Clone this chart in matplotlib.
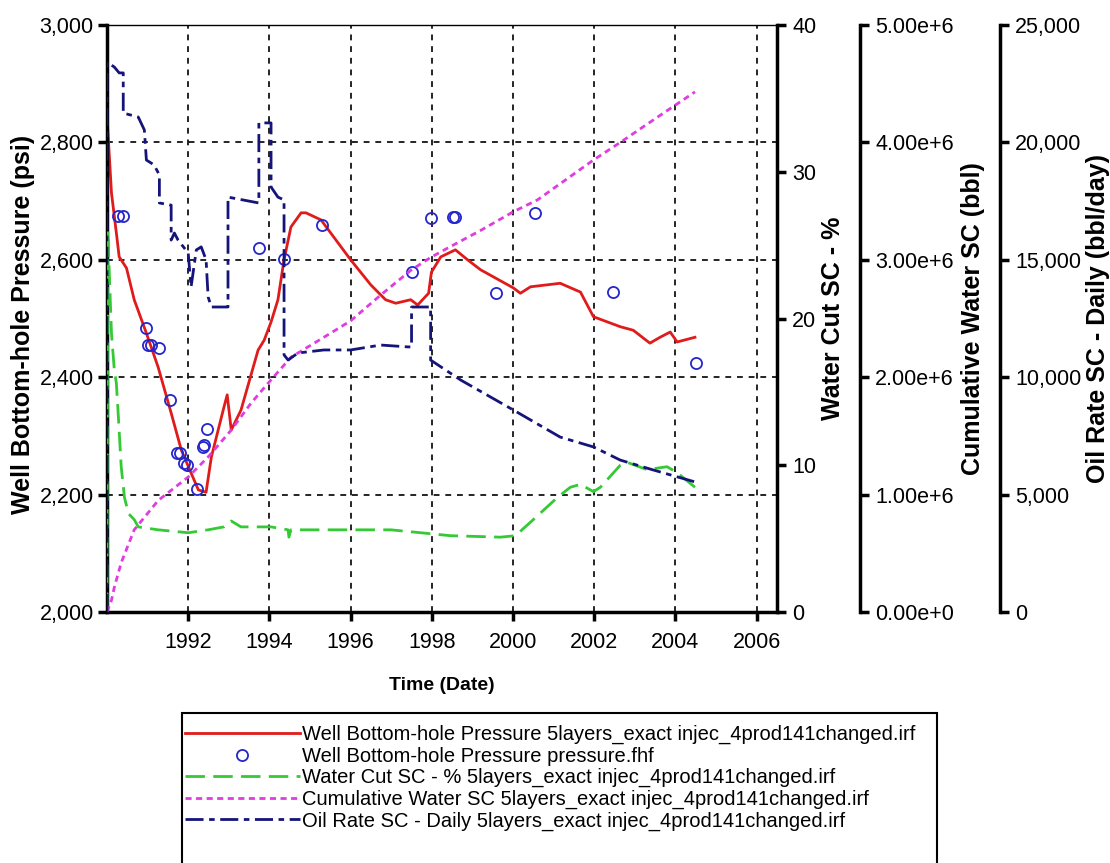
import matplotlib
matplotlib.use('Agg')
import matplotlib.pyplot as plt
from matplotlib.ticker import FuncFormatter
from matplotlib.patches import Rectangle

plt.rcParams['font.family'] = ['Liberation Sans', 'DejaVu Sans']

# simulated well bottom-hole pressure (psi), time in decimal years
red_t = [1990.02, 1990.11, 1990.23, 1990.30, 1990.48, 1990.67, 1990.97, 1991.26, 1991.58, 1991.83,
         1992.07, 1992.25, 1992.44, 1992.57, 1992.88, 1992.96, 1993.06, 1993.30, 1993.72, 1993.87,
         1994.04, 1994.21, 1994.36, 1994.53, 1994.78, 1994.90, 1995.27, 1996.00, 1996.50, 1996.86,
         1997.11, 1997.48, 1997.65, 1997.92, 1997.99, 1998.22, 1998.58, 1998.88, 1999.20, 2000.01,
         2000.18, 2000.43, 2001.16, 2001.66, 2001.98, 2002.64, 2002.96, 2003.37, 2003.62, 2003.87,
         2004.04, 2004.48]
red_p = [2821, 2714, 2646, 2605, 2586, 2532, 2475, 2417, 2339, 2276,
         2237, 2208, 2204, 2264, 2349, 2370, 2310, 2344, 2446, 2463,
         2494, 2532, 2600, 2656, 2680, 2680, 2668, 2600, 2557, 2532,
         2526, 2532, 2523, 2543, 2579, 2605, 2617, 2600, 2583, 2552,
         2543, 2554, 2560, 2545, 2503, 2486, 2480, 2458, 2468, 2477,
         2460, 2468]

# measured pressure (pressure.fhf)
obs_t = [1990.28, 1990.40, 1990.97, 1991.02, 1991.09, 1991.29, 1991.56, 1991.73, 1991.80, 1991.90,
         1991.98, 1992.22, 1992.37, 1992.39, 1992.47, 1993.74, 1994.36, 1995.29, 1997.50, 1997.97,
         1998.51, 1998.58, 1999.57, 2000.55, 2002.47, 2004.51]
obs_p = [2675, 2675, 2484, 2455, 2455, 2450, 2361, 2271, 2271, 2254,
         2250, 2210, 2281, 2285, 2312, 2620, 2601, 2659, 2579, 2671,
         2673, 2673, 2543, 2680, 2545, 2424]

# water cut (%)
wc_t = [1990.0, 1990.02, 1990.08, 1990.11, 1990.18, 1990.23, 1990.28, 1990.35, 1990.43, 1990.53,
        1990.67, 1990.77, 1991.26, 1992.0, 1992.49, 1992.88, 1993.06, 1993.30, 1994.04, 1994.46,
        1994.48, 1994.53, 1996.99, 1998.46, 1999.69, 2000.06, 2000.50, 2001.09, 2001.41, 2001.66,
        2001.98, 2002.15, 2002.64, 2002.81, 2003.30, 2003.79, 2004.04, 2004.48]
wc_v = [0, 26.0, 21.3, 19.0, 16.5, 15.6, 13.3, 9.9, 7.8, 6.7,
        6.3, 5.8, 5.6, 5.4, 5.6, 5.8, 6.2, 5.8, 5.8, 5.6,
        5.1, 5.6, 5.6, 5.2, 5.1, 5.2, 6.3, 7.8, 8.5, 8.7,
        8.2, 8.5, 10.0, 10.2, 9.7, 9.9, 9.5, 8.5]

# cumulative water (bbl)
cw_t = [1990.0, 1990.11, 1990.18, 1990.35, 1990.67, 1991.26, 1992.0, 1992.49, 1993.06, 1993.55,
        1993.97, 1994.53, 1995.34, 1996.00, 1996.74, 1997.48, 1997.97, 1998.39, 1999.20, 2000.01,
        2000.60, 2001.98, 2002.64, 2003.62, 2004.48]
cw_v = [0, 0.10e6, 0.21e6, 0.42e6, 0.70e6, 0.95e6, 1.15e6, 1.32e6, 1.55e6, 1.78e6,
        1.95e6, 2.17e6, 2.34e6, 2.48e6, 2.70e6, 2.91e6, 3.02e6, 3.10e6, 3.25e6, 3.41e6,
        3.51e6, 3.85e6, 4.00e6, 4.23e6, 4.43e6]

# daily oil rate (bbl/day), repeated times are rate changes
oil_t = [1990.0, 1990.0, 1990.18, 1990.30, 1990.40, 1990.40, 1990.77, 1990.92, 1990.97, 1991.16,
         1991.29, 1991.29, 1991.58, 1991.58, 1991.66, 1991.75, 1992.0, 1992.07, 1992.20, 1992.32,
         1992.44, 1992.49, 1992.57, 1992.98, 1992.98, 1993.74, 1993.74, 1994.04, 1994.04, 1994.21,
         1994.36, 1994.36, 1994.46, 1994.70, 1995.34, 1996.00, 1996.74, 1997.41, 1997.50, 1997.50,
         1997.97, 1997.97, 1998.71, 2000.01, 2001.16, 2001.98, 2002.64, 2003.45, 2004.48]
oil_v = [0, 23420, 23210, 22960, 22960, 21250, 21080, 20530, 19250, 19040,
         18610, 17420, 17330, 15840, 16140, 15840, 15290, 13840, 15420, 15550,
         15000, 13420, 12990, 12990, 17670, 17420, 20830, 20830, 18100, 17670,
         17550, 10950, 10730, 11030, 11160, 11160, 11370, 11290, 11290, 12990,
         12990, 10730, 9880, 8600, 7450, 7030, 6470, 6050, 5540]

labels = ['Well Bottom-hole Pressure 5layers_exact injec_4prod141changed.irf',
          'Well Bottom-hole Pressure pressure.fhf',
          'Water Cut SC - % 5layers_exact injec_4prod141changed.irf',
          'Cumulative Water SC 5layers_exact injec_4prod141changed.irf',
          'Oil Rate SC - Daily 5layers_exact injec_4prod141changed.irf']

W, H = 1110, 863
fig = plt.figure(figsize=(W / 100, H / 100), dpi=100)
ax = fig.add_axes([107 / W, 1 - 612 / H, 670 / W, 587 / H])

tick_kw = dict(direction='out', length=6.5, width=2.5, labelsize=15.5)
label_kw = dict(fontsize=18, fontweight='bold', va='center')

# main axis: pressure
red, = ax.plot(red_t, red_p, color='#e01b1b', lw=2.0)
obs, = ax.plot(obs_t, obs_p, ls='none', marker='o', ms=8, mfc='none',
               mec='#2525cc', mew=1.3)
ax.set_xlim(1990.0, 2006.5)
ax.set_ylim(2000, 3000)
ax.set_xticks(range(1992, 2007, 2))
ax.set_yticks(range(2000, 3001, 200))
ax.yaxis.set_major_formatter(FuncFormatter(lambda v, p: f'{v:,.0f}'))
ax.grid(True, color='black', ls=(0, (3.5, 3.5)), lw=1.2)
ax.tick_params(axis='y', pad=3, **tick_kw)
ax.tick_params(axis='x', pad=8, **tick_kw)
for s in ['left', 'bottom']:
    ax.spines[s].set_linewidth(2.5)
ax.spines['top'].set_linewidth(1.0)
ax.spines['right'].set_visible(False)
ax.set_xlabel('Time (Date)', fontsize=14, fontweight='bold', va='center')
ax.xaxis.set_label_coords(0.5, -(685 - 612) / 587)
ax.set_ylabel('Well Bottom-hole Pressure (psi)', **label_kw)
ax.yaxis.set_label_coords(-(107 - 23) / 670, 0.49)


def right_axis(pos, ylim, step, fmt, label, lx):
    a = ax.twinx()
    a.set_ylim(*ylim)
    a.set_yticks([ylim[0] + i * step for i in range(int(round((ylim[1] - ylim[0]) / step)) + 1)])
    a.yaxis.set_major_formatter(FuncFormatter(fmt))
    for s in ['left', 'top', 'bottom']:
        a.spines[s].set_visible(False)
    a.spines['right'].set_position(('axes', pos))
    a.spines['right'].set_linewidth(2.5)
    a.tick_params(pad=4.5, **tick_kw)
    a.set_ylabel(label, **label_kw)
    a.yaxis.set_label_coords(lx, 0.5)
    return a


ax2 = right_axis(1.0, (0, 40), 10, lambda v, p: f'{v:.0f}',
                 'Water Cut SC - %', (833 - 107) / 670)
green, = ax2.plot(wc_t, wc_v, color='#35c935', lw=2.0, ls=(0, (7, 3)))

ax3 = right_axis((860 - 107) / 670, (0, 5e6), 1e6,
                 lambda v, p: '0.00e+0' if v == 0 else f'{v / 1e6:.2f}e+6',
                 'Cumulative Water SC (bbl)', (973 - 107) / 670)
magenta, = ax3.plot(cw_t, cw_v, color='#e03ce0', lw=2.0, ls=(0, (2.2, 1.6)))

ax4 = right_axis((1000 - 107) / 670, (0, 25000), 5000, lambda v, p: f'{v:,.0f}',
                 'Oil Rate SC - Daily (bbl/day)', (1098 - 107) / 670)
blue, = ax4.plot(oil_t, oil_v, color='#14147a', lw=2.0, ls=(0, (6.5, 2, 2, 2)))

# legend below the plot, frame runs off the bottom edge
leg = fig.legend([red, obs, green, magenta, blue], labels, loc='upper left',
                 bbox_to_anchor=(185 / W, 1 - 725 / H), frameon=False, fontsize=14.5,
                 handlelength=5.7, handletextpad=0.1, labelspacing=0.12,
                 borderpad=0, borderaxespad=0, numpoints=1)
fig.patches.append(Rectangle((182 / W, -0.05), (937 - 182) / W, 0.05 + 1 - 713 / H,
                             transform=fig.transFigure, fill=False, lw=1.5, ec='black'))

fig.savefig('out.png', dpi=100)
